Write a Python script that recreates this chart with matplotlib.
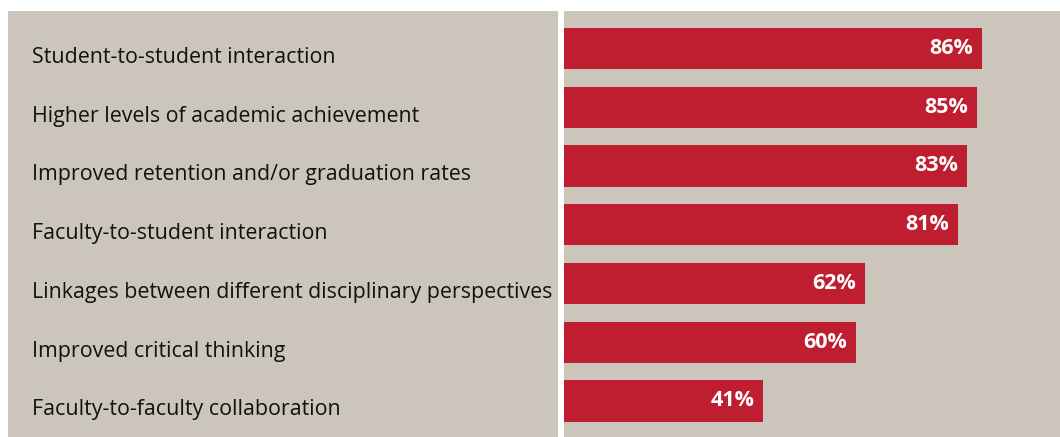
import matplotlib
matplotlib.use("Agg")
import matplotlib.pyplot as plt
from matplotlib.patches import Rectangle
import matplotlib.transforms as mtransforms

categories = [
    "Student-to-student interaction",
    "Higher levels of academic achievement",
    "Improved retention and/or graduation rates",
    "Faculty-to-student interaction",
    "Linkages between different disciplinary perspectives",
    "Improved critical thinking",
    "Faculty-to-faculty collaboration",
]
values = [86, 85, 83, 81, 62, 60, 41]
value_labels = ["86%", "85%", "83%", "81%", "62%", "60%", "41%"]

BG = "#ccc5bb"
RED = "#be1e2f"
W, H = 1060, 437

fig = plt.figure(figsize=(W / 100, H / 100), dpi=100, facecolor="white")

# left label panel
fig.patches.append(Rectangle((8 / W, 0), (558 - 8) / W, (H - 11) / H,
                             transform=fig.transFigure, facecolor=BG,
                             edgecolor="none", zorder=-1))

ax = fig.add_axes([564 / W, 0, (W - 564) / W, (H - 11) / H])
ax.set_facecolor(BG)
for s in ax.spines.values():
    s.set_visible(False)
ax.set_xticks([])
ax.set_yticks([])

ypos = list(range(len(categories)))
ax.barh(ypos, values, height=0.70, color=RED, left=0)
ax.set_xlim(0, (W - 564) / 4.86)
ax.set_ylim(6.613, -0.638)

px = 1 / 4.86
for y, v, lab in zip(ypos, values, value_labels):
    ax.text(v - 9 * px, y, lab, ha="right", va="center", color="white",
            fontsize=15.5, fontweight="bold", family="Open Sans")

trans = mtransforms.blended_transform_factory(fig.transFigure, ax.transData)
for y, c in zip(ypos, categories):
    t = fig.text(32 / W, 0, c, ha="left", va="center", color="#111111",
                 fontsize=15.4, family="Open Sans", transform=trans)
    t.set_position((32 / W, y + 0.15))

fig.savefig("out.png", dpi=100, facecolor="white")
